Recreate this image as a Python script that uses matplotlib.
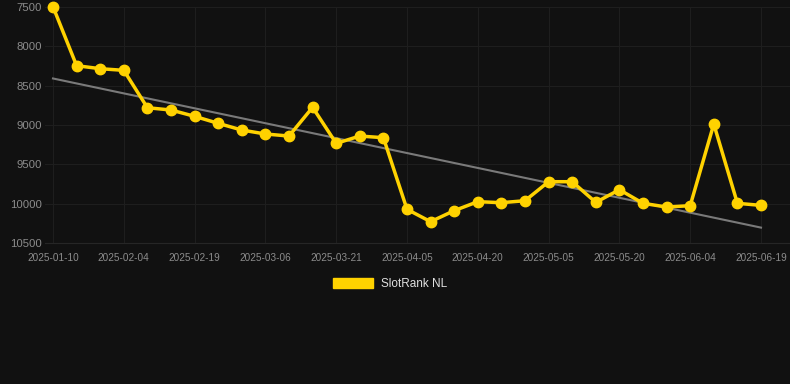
import numpy as np
import matplotlib.pyplot as plt
from matplotlib.patches import Patch

dates = ["2025-01-10", "2025-01-20", "2025-01-30", "2025-02-04", "2025-02-09",
         "2025-02-14", "2025-02-19", "2025-02-24", "2025-03-01", "2025-03-06",
         "2025-03-11", "2025-03-16", "2025-03-21", "2025-03-26", "2025-03-31",
         "2025-04-05", "2025-04-10", "2025-04-15", "2025-04-20", "2025-04-25",
         "2025-04-30", "2025-05-05", "2025-05-10", "2025-05-15", "2025-05-20",
         "2025-05-25", "2025-05-30", "2025-06-04", "2025-06-09", "2025-06-14",
         "2025-06-19"]
rank = [7500, 8248, 8286, 8307, 8781, 8810, 8890, 8979, 9064, 9114,
        9140, 8776, 9233, 9140, 9161, 10069, 10226, 10086, 9972, 9985,
        9960, 9719, 9719, 9981, 9820, 9993, 10040, 10023, 8988, 9993,
        10019]
series_name = "SlotRank NL"

bg = "#111111"
yellow = "#FFD200"

plt.rcParams['font.family'] = ['Liberation Sans', 'DejaVu Sans']

fig = plt.figure(figsize=(7.9, 3.84), dpi=100, facecolor=bg)
ax = fig.add_axes([45 / 790, 1 - 243.3 / 384, 745 / 790, 236.6 / 384])
ax.set_facecolor(bg)

x = np.arange(len(rank))

# trend line (linear fit)
k, b = np.polyfit(x, rank, 1)
ax.plot(x, k * x + b, color="#7a7a7a", lw=1.5, zorder=2)

ax.plot(x, rank, color=yellow, lw=2.5, marker="o", markersize=7.5,
        zorder=3, clip_on=False)

ax.set_ylim(10500, 7500)
ax.set_xlim(-8 / 23.6, 30 + 29 / 23.6)
ax.set_yticks([7500, 8000, 8500, 9000, 9500, 10000, 10500])
ax.set_xticks(x[::3])
ax.set_xticklabels(dates[::3])

ax.grid(True, color="#1e1e1e", lw=0.75)
ax.set_axisbelow(True)
for s in ["top", "right", "left"]:
    ax.spines[s].set_visible(False)
ax.spines["bottom"].set_color("#262626")

ax.tick_params(axis="y", length=0, pad=2, labelsize=8.2, labelcolor="#8c8c8c")
ax.tick_params(axis="x", length=0, pad=7, labelsize=7.2, labelcolor="#8c8c8c")

handle = Patch(facecolor=yellow, edgecolor=yellow)
fig.legend([handle], [series_name], loc="center",
           bbox_to_anchor=(390 / 790, 1 - 284 / 384), frameon=False,
           handlelength=3.4, handleheight=1.0, handletextpad=0.6,
           fontsize=8.5, labelcolor="#e0e0e0")

fig.savefig("out.png", dpi=100, facecolor=bg)
